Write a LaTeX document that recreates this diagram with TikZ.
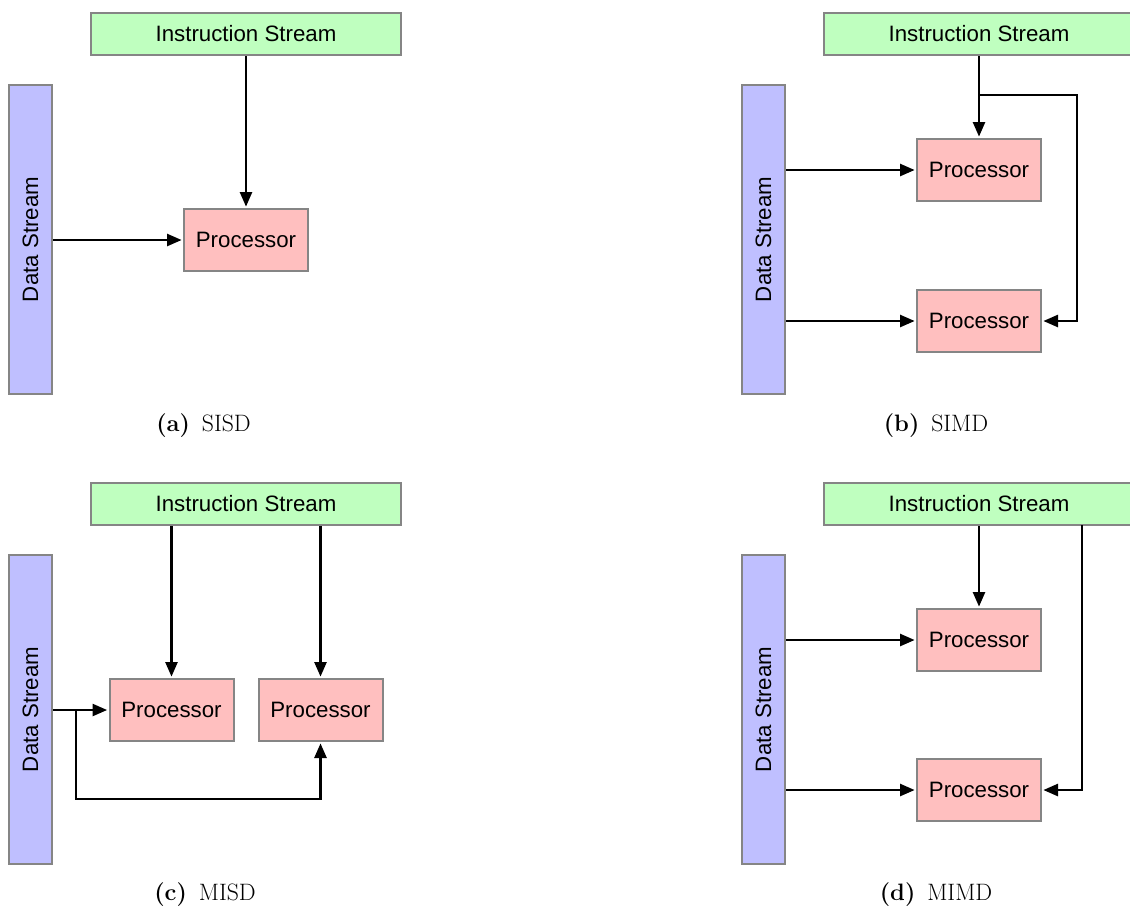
\documentclass[tikz,border=0pt]{standalone}
\usepackage{fontspec}
\newfontfamily\boxfont{Liberation Sans}
\usetikzlibrary{arrows.meta}
\definecolor{instrfill}{HTML}{BFFFBF}
\definecolor{datafill}{HTML}{BFBFFF}
\definecolor{procfill}{HTML}{FFBFBF}
\definecolor{boxline}{HTML}{858585}
\begin{document}
\begin{tikzpicture}[x=0.75pt,y=-0.75pt,
  box/.style={draw=boxline,line width=1.5pt,inner sep=0pt,
    font=\boxfont\fontsize{16.7}{20}\selectfont},
  instr/.style={box,fill=instrfill,minimum width=232.5pt,minimum height=31.5pt},
  datas/.style={box,fill=datafill,rotate=90,minimum width=231.75pt,minimum height=32.25pt},
  proc/.style={box,fill=procfill,minimum width=93pt,minimum height=46.5pt},
  arr/.style={line width=1.9pt,-{Triangle[length=11pt,width=9pt]},shorten >=1pt},
  caption/.style={font=\fontsize{17.8}{21}\selectfont}]
\useasboundingbox (0,0) rectangle (1130,908);

% (a) SISD
\node[instr] (ia) at (246,34) {Instruction Stream};
\node[datas] (da) at (30.5,239.5) {Data Stream};
\node[proc] (pa) at (246,240) {Processor};
\draw[arr] (ia.south) -- (pa.north);
\draw[arr] (pa.west -| da.south) -- (pa.west);
\node[caption] (ca) at (203.5,426) {\textbf{(a)}\hspace{0.5em}SISD};

% (b) SIMD
\node[instr] (ib) at (979,34) {Instruction Stream};
\node[datas] (db) at (763.5,239.5) {Data Stream};
\node[proc] (pb1) at (979,170) {Processor};
\node[proc] (pb2) at (979,321) {Processor};
\coordinate (bj) at (979,95);
\coordinate (bk) at (1077,95);
\draw[arr] (ib.south) -- (pb1.north);
\draw[arr] (bj) -- (bk) |- (pb2.east);
\draw[arr] (pb1.west -| db.south) -- (pb1.west);
\draw[arr] (pb2.west -| db.south) -- (pb2.west);
\node[caption] (cb) at (936,426) {\textbf{(b)}\hspace{0.5em}SIMD};

% (c) MISD
\node[instr] (ic) at (246,504) {Instruction Stream};
\node[datas] (dc) at (30.5,709.5) {Data Stream};
\node[proc] (pc1) at (171.5,710) {Processor};
\node[proc] (pc2) at (320.5,710) {Processor};
\draw[arr] (pc1.north |- ic.south) -- (pc1.north);
\draw[arr] (pc2.north |- ic.south) -- (pc2.north);
\coordinate (cj) at (76,710);
\coordinate (cl) at (76,799);
\draw[arr] (pc1.west -| dc.south) -- (pc1.west);
\draw[arr] (cj) -- (cl) -| (pc2.south);
\node[caption] (cc) at (205,895) {\textbf{(c)}\hspace{0.5em}MISD};

% (d) MIMD
\node[instr] (id) at (979,504) {Instruction Stream};
\node[datas] (dd) at (763.5,709.5) {Data Stream};
\node[proc] (pd1) at (979,640) {Processor};
\node[proc] (pd2) at (979,790) {Processor};
\coordinate (dk) at (1082,525);
\draw[arr] (id.south) -- (pd1.north);
\draw[arr] (dk) |- (pd2.east);
\draw[arr] (pd1.west -| dd.south) -- (pd1.west);
\draw[arr] (pd2.west -| dd.south) -- (pd2.west);
\node[caption] (cd) at (936,895) {\textbf{(d)}\hspace{0.5em}MIMD};
\end{tikzpicture}
\end{document}
